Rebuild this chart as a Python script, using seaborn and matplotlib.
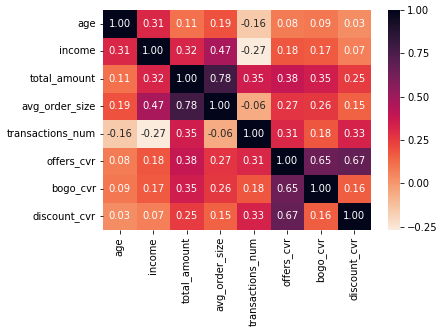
import numpy as np
import pandas as pd
import matplotlib
matplotlib.use("Agg")
import matplotlib.pyplot as plt
import seaborn as sns

features = ["age", "income", "total_amount", "avg_order_size",
            "transactions_num", "offers_cvr", "bogo_cvr", "discount_cvr"]

age = [1.00, 0.31, 0.11, 0.19, -0.16, 0.08, 0.09, 0.03]
income = [0.31, 1.00, 0.32, 0.47, -0.27, 0.18, 0.17, 0.07]
total_amount = [0.11, 0.32, 1.00, 0.78, 0.35, 0.38, 0.35, 0.25]
avg_order_size = [0.19, 0.47, 0.78, 1.00, -0.06, 0.27, 0.26, 0.15]
transactions_num = [-0.16, -0.27, 0.35, -0.06, 1.00, 0.31, 0.18, 0.33]
offers_cvr = [0.08, 0.18, 0.38, 0.27, 0.31, 1.00, 0.65, 0.67]
bogo_cvr = [0.09, 0.17, 0.35, 0.26, 0.18, 0.65, 1.00, 0.16]
discount_cvr = [0.03, 0.07, 0.25, 0.15, 0.33, 0.67, 0.16, 1.00]

corr = pd.DataFrame(
    [age, income, total_amount, avg_order_size,
     transactions_num, offers_cvr, bogo_cvr, discount_cvr],
    index=features, columns=features,
)

W, H = 443, 331
fig = plt.figure(figsize=(W / 72, H / 72), dpi=72)
ax = fig.add_axes([103 / W, 1 - 230 / H, 268 / W, 220 / H])
cax = fig.add_axes([388 / W, 1 - 230 / H, 12 / W, 220 / H])

sns.heatmap(corr, annot=True, fmt=".2f", cmap="rocket_r",
            ax=ax, cbar_ax=cax)
cax.set_yticks([-0.25, 0.0, 0.25, 0.5, 0.75, 1.0])

fig.savefig("out.png", dpi=72)
